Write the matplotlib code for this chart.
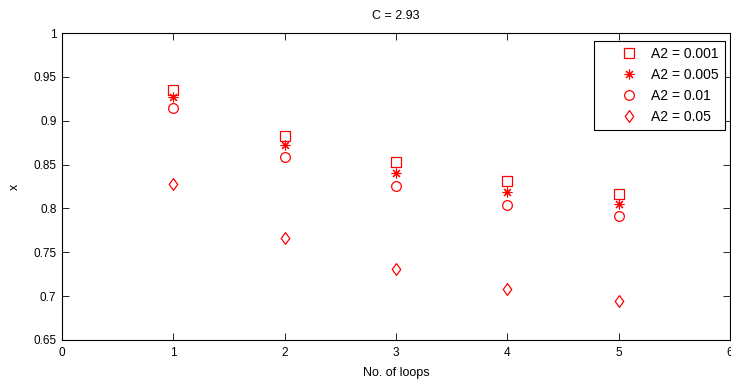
import matplotlib
matplotlib.use("Agg")
import matplotlib.pyplot as plt
from matplotlib.legend_handler import HandlerLine2D
from matplotlib.lines import Line2D

loops = [1, 2, 3, 4, 5]
a2_0001 = [0.935, 0.883, 0.853, 0.831, 0.817]
a2_0005 = [0.927, 0.872, 0.840, 0.819, 0.805]
a2_001 = [0.914, 0.859, 0.826, 0.804, 0.791]
a2_005 = [0.828, 0.766, 0.731, 0.708, 0.695]
labels = ["A2 = 0.001", "A2 = 0.005", "A2 = 0.01", "A2 = 0.05"]
xticks = [0, 1, 2, 3, 4, 5, 6]
yticks = [0.65, 0.7, 0.75, 0.8, 0.85, 0.9, 0.95, 1]
yticklabels = ['0.65', '0.7', '0.75', '0.8', '0.85', '0.9', '0.95', '1']

plt.rcParams['font.family'] = ['Liberation Sans', 'DejaVu Sans']
fig = plt.figure(figsize=(7.31, 3.83), dpi=100)
ax = fig.add_axes([62/731, 43/383, 668/731, 307/383])

red = '#ff0000'
diamond = [(0, 1), (0.72, 0), (0, -1), (-0.72, 0), (0, 1)]
ax.plot(loops, a2_0001, linestyle='none', marker='s', markersize=7, mfc='none', mec=red, mew=0.9, label=labels[0])
ax.plot(loops, a2_0005, linestyle='none', marker=(8, 2, 0), markersize=7, mfc='none', mec=red, mew=0.8, label=labels[1])
ax.plot(loops, a2_001, linestyle='none', marker='o', markersize=7, mfc='none', mec=red, mew=0.9, label=labels[2])
ax.plot(loops, a2_005, linestyle='none', marker=diamond, markersize=8.5, mfc='none', mec=red, mew=0.9, label=labels[3])

ax.set_xlim(0, 6)
ax.set_ylim(0.65, 1)
ax.set_xticks(xticks)
ax.set_xticklabels([str(t) for t in xticks])
ax.set_yticks(yticks)
ax.set_yticklabels(yticklabels)
ax.tick_params(direction='in', top=True, right=True, labelsize=8.5, length=5, width=0.6)
ax.tick_params(axis='x', pad=5)
ax.tick_params(axis='y', pad=4)
for s in ax.spines.values():
    s.set_linewidth(0.8)

ax.set_title('C = 2.93', fontsize=9, pad=10)
ax.set_xlabel('No. of loops', fontsize=9, labelpad=6)
ax.set_ylabel('x', fontsize=9, labelpad=9)


class RightMarkerHandler(HandlerLine2D):
    def get_xdata(self, legend, xdescent, ydescent, width, height, fontsize):
        x0 = -xdescent + 0.4 * width
        x1 = -xdescent + width
        return [x0, x1], [x0, x1]


leg = ax.legend(loc='upper right', bbox_to_anchor=((725 - 62) / 668, (340 - 41) / 307),
                borderaxespad=0, fontsize=10, frameon=True, fancybox=False,
                edgecolor='black', framealpha=1, numpoints=1,
                handletextpad=0.7, labelspacing=0.5, borderpad=0.45, handlelength=2.95,
                handler_map={Line2D: RightMarkerHandler(numpoints=1)})
leg.get_frame().set_linewidth(0.8)

fig.savefig('out.png', dpi=100)
